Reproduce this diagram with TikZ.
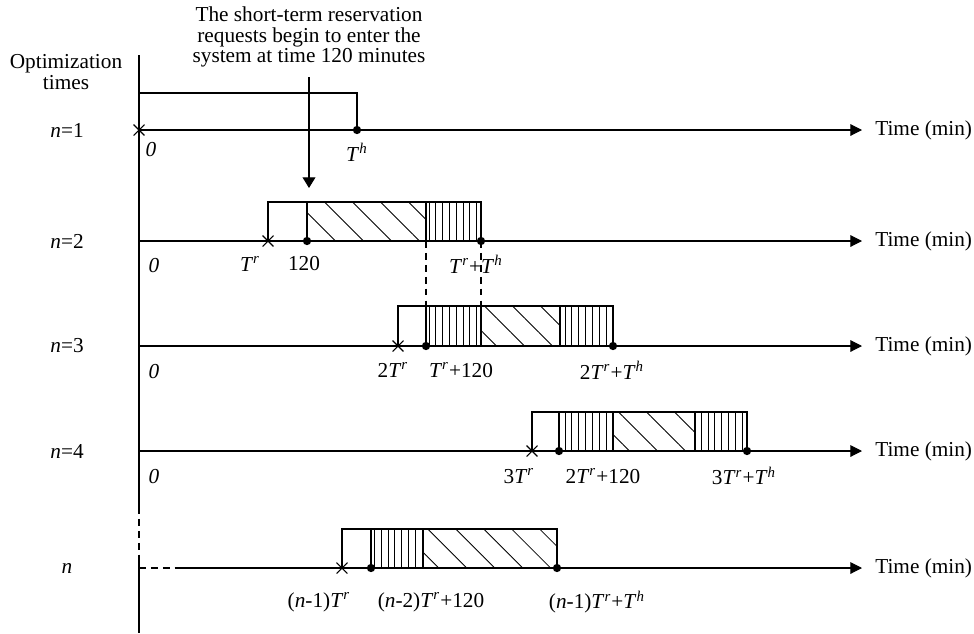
\documentclass[tikz,border=0pt]{standalone}
\usepackage{fontspec}
\setmainfont{Liberation Serif}
\usetikzlibrary{arrows.meta,patterns.meta,shapes.misc}
\newcommand{\Tr}{\textit{T}\textsuperscript{\textit{r}}}
\newcommand{\Th}{\textit{T}\textsuperscript{\textit{h}}}
\tikzset{
  trait/.style={line width=0.5pt},
  tirets/.style={line width=0.5pt,dash pattern=on 3.2pt off 2.4pt},
  fleche/.style={line width=0.5pt,-{Triangle[length=5.5pt,width=5.5pt]}},
  vhach/.style={line width=0.5pt,pattern={Lines[angle=90,distance=3.2pt,line width=0.4pt]}},
  dhach/.style={line width=0.5pt,pattern={Lines[angle=-45,distance=9.3pt,line width=0.4pt]}},
  point/.style={circle,fill,inner sep=0pt,minimum size=3.9pt},
  croix/.style={cross out,draw,inner sep=0pt,minimum size=4.6pt,line width=0.5pt},
  etiq/.style={inner sep=0pt},
  texte/.style={inner sep=0pt,align=center,font={\fontsize{10pt}{9.6pt}\selectfont}},
}
\begin{document}
\begin{tikzpicture}[x=0.47pt,y=-0.47pt]
    \useasboundingbox (0,0) rectangle (974,633);
    % Axe vertical
    \coordinate (a0) at (139,55);
    \coordinate (a1) at (139,507);
    \coordinate (a2) at (139,555);
    \coordinate (a3) at (139,633);
    \draw[trait] (a0) -- (a1);
    \draw[tirets] (a1) -- (a2);
    \draw[trait] (a2) -- (a3);
    \node[texte] (titre) at (66,72) {Optimization\\times};
    % Remarque
    \node[texte] (remarque) at (309,37) {The short-term reservation\\requests begin to enter the\\system at time 120 minutes};
    \coordinate (r0) at (309,77);
    \coordinate (r1) at (309,188);
    \draw[line width=0.5pt,-{Triangle[length=5pt,width=6pt]}] (r0) -- (r1);
    % n=1
    \node[etiq] (l1) at (67,130) {\textit{n}=1};
    \coordinate (d1) at (139,130);
    \coordinate (f1) at (862,130);
    \draw[fleche] (d1) -- (f1) node[etiq,right=6pt] (t1) {Time (min)};
    \node[croix] (x1) at (139,130) {};
    \node[point] (p1) at (357,130) {};
    \draw[trait] (x1.center) -- ++(0,-37) -| (p1.center);
    \node[etiq] (z1) at (151,150) {\textit{0}};
    \node[etiq] (e1) at (357,152) {\Th};
    % n=2
    \node[etiq] (l2) at (67,241) {\textit{n}=2};
    \coordinate (d2) at (139,241);
    \coordinate (f2) at (862,241);
    \draw[fleche] (d2) -- (f2) node[etiq,right=6pt] (t2) {Time (min)};
    \draw[dhach] (307,202) rectangle (426,241);
    \draw[vhach] (426,202) rectangle (481,241);
    \node[croix] (x2) at (268,241) {};
    \node[point] (p2a) at (307,241) {};
    \node[point] (p2b) at (481,241) {};
    \draw[trait] (x2.center) -- ++(0,-39) -| (p2a.center);
    \node[etiq] (z2) at (154,266) {\textit{0}};
    \node[etiq] (e2a) at (250,264) {\Tr};
    \node[etiq] (e2b) at (304,264) {120};
    \node[etiq] (e2c) at (476,264) {\Tr+\Th};
    % n=3
    \node[etiq] (l3) at (67,346) {\textit{n}=3};
    \coordinate (d3) at (139,346);
    \coordinate (f3) at (862,346);
    \draw[fleche] (d3) -- (f3) node[etiq,right=6pt] (t3) {Time (min)};
    \draw[vhach] (426,306) rectangle (481,346);
    \draw[dhach] (481,306) rectangle (560,346);
    \draw[vhach] (560,306) rectangle (613,346);
    \node[croix] (x3) at (398,346) {};
    \node[point] (p3a) at (426,346) {};
    \node[point] (p3b) at (613,346) {};
    \draw[trait] (x3.center) -- ++(0,-40) -| (p3a.center);
    \coordinate (h3a) at (426,306);
    \coordinate (h3b) at (481,306);
    \coordinate (h2a) at (426,241);
    \draw[tirets] (h2a) -- (h3a);
    \draw[tirets] (p2b.center) -- (h3b);
    \node[etiq] (z3) at (154,372) {\textit{0}};
    \node[etiq] (e3a) at (393,370) {2\Tr};
    \node[etiq] (e3b) at (461,370) {\Tr+120};
    \node[etiq] (e3c) at (612,370) {2\Tr+\Th};
    % n=4
    \node[etiq] (l4) at (67,451) {\textit{n}=4};
    \coordinate (d4) at (139,451);
    \coordinate (f4) at (862,451);
    \draw[fleche] (d4) -- (f4) node[etiq,right=6pt] (t4) {Time (min)};
    \draw[vhach] (559,412) rectangle (613,451);
    \draw[dhach] (613,412) rectangle (695,451);
    \draw[vhach] (695,412) rectangle (747,451);
    \node[croix] (x4) at (532,451) {};
    \node[point] (p4a) at (559,451) {};
    \node[point] (p4b) at (747,451) {};
    \draw[trait] (x4.center) -- ++(0,-39) -| (p4a.center);
    \node[etiq] (z4) at (154,477) {\textit{0}};
    \node[etiq] (e4a) at (519,476) {3\Tr};
    \node[etiq] (e4b) at (603,476) {2\Tr+120};
    \node[etiq] (e4c) at (744,476) {3\Tr+\Th};
    % n
    \node[etiq] (ln) at (67,568) {\textit{n}};
    \coordinate (dn) at (139,568);
    \coordinate (mn) at (180,568);
    \coordinate (fn) at (862,568);
    \draw[tirets] (dn) -- (mn);
    \draw[fleche] (mn) -- (fn) node[etiq,right=6pt] (tn) {Time (min)};
    \draw[vhach] (371,529) rectangle (423,568);
    \draw[dhach] (423,529) rectangle (557,568);
    \node[croix] (xn) at (342,568) {};
    \node[point] (pna) at (371,568) {};
    \node[point] (pnb) at (557,568) {};
    \draw[trait] (xn.center) -- ++(0,-39) -| (pna.center);
    \node[etiq] (ena) at (319,602) {(\textit{n}-1)\Tr};
    \node[etiq] (enb) at (431,602) {(\textit{n}-2)\Tr+120};
    \node[etiq] (enc) at (597,602) {(\textit{n}-1)\Tr+\Th};
\end{tikzpicture}
\end{document}
